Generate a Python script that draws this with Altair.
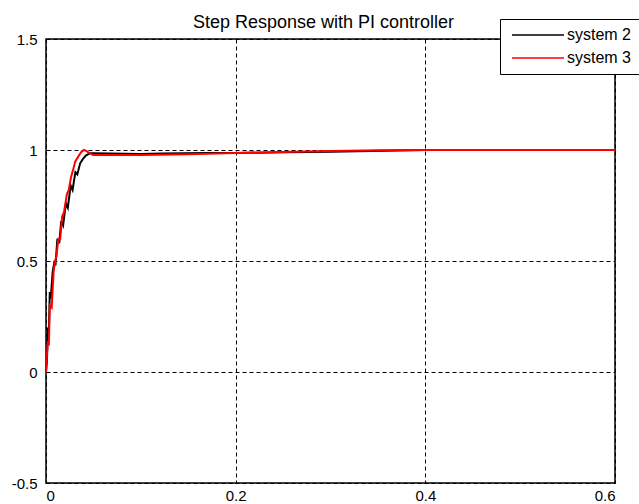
import altair as alt
import pandas as pd

# system 2 (black) step response
t2 = [0, 0.001, 0.002, 0.003, 0.004, 0.005, 0.007, 0.009, 0.010, 0.012, 0.014, 0.016, 0.018,
      0.021, 0.023, 0.026, 0.028, 0.031, 0.033, 0.036, 0.039, 0.042, 0.046, 0.05,
      0.1, 0.122, 0.17, 0.2, 0.25, 0.3, 0.343, 0.4, 0.6]
y2 = [0, 0.05, 0.2, 0.17, 0.36, 0.33, 0.45, 0.5, 0.48, 0.6, 0.58, 0.68, 0.66,
      0.76, 0.74, 0.84, 0.82, 0.9, 0.89, 0.94, 0.96, 0.975, 0.985, 0.985,
      0.982, 0.984, 0.986, 0.987, 0.99, 0.992, 0.995, 1.0, 1.0]

# system 3 (red) step response
t3 = [0, 0.001, 0.002, 0.003, 0.004, 0.006, 0.008, 0.0095, 0.011, 0.013, 0.015, 0.017, 0.019,
      0.022, 0.024, 0.0265, 0.0285, 0.031, 0.034, 0.037, 0.040, 0.043, 0.046, 0.05,
      0.1, 0.15, 0.2, 0.25, 0.3, 0.35, 0.4, 0.6]
y3 = [0, 0.08, 0.14, 0.12, 0.3, 0.29, 0.45, 0.5, 0.52, 0.6, 0.6, 0.7, 0.72,
      0.8, 0.82, 0.88, 0.91, 0.95, 0.97, 0.99, 1.0, 0.995, 0.985, 0.978,
      0.978, 0.981, 0.986, 0.991, 0.995, 0.999, 1.0, 1.0]

series = ["system 2", "system 3"]
colors = ["#000000", "#ff0000"]
x_ticks = [0, 0.2, 0.4, 0.6]
y_ticks = [-0.5, 0, 0.5, 1, 1.5]

df = pd.concat([
    pd.DataFrame({"t": t2, "y": y2, "s": series[0], "o": range(len(t2))}),
    pd.DataFrame({"t": t3, "y": y3, "s": series[1], "o": range(len(t3))}),
])

FONT = "Liberation Sans"

def axis(vals, pad):
    return alt.Axis(values=vals, title=None, grid=True, ticks=False, domain=False,
                    labelExpr="'' + datum.value", labelPadding=pad,
                    labelFont=FONT, labelFontSize=15, labelColor="black",
                    gridColor="black", gridDash=[4, 3], gridOpacity=1, gridWidth=1)

chart = alt.Chart(df).mark_line(strokeWidth=2, clip=True).encode(
    x=alt.X("t:Q", scale=alt.Scale(domain=[0, 0.6], nice=False, zero=False),
            axis=axis(x_ticks, 5)),
    y=alt.Y("y:Q", scale=alt.Scale(domain=[-0.5, 1.5], nice=False, zero=False),
            axis=axis(y_ticks, 9)),
    color=alt.Color("s:N", scale=alt.Scale(domain=series, range=colors),
                    legend=alt.Legend(title=None, orient="none", legendX=454, legendY=-20,
                                      fillColor="white", strokeColor="black", padding=8,
                                      symbolType="M-4,0H4", symbolSize=169, symbolOffset=22,
                                      symbolStrokeWidth=1.5, labelOffset=21,
                                      labelExpr="datum.label + '          '",
                                      rowPadding=7, labelFontSize=16, labelFont=FONT,
                                      labelColor="black")),
    order="o:Q",
    detail="s:N",
).properties(
    width=569, height=444,
    title=alt.TitleParams("Step Response with PI controller", font=FONT, fontSize=18,
                          fontWeight="normal", color="black", offset=-8, anchor="middle",
                          baseline="alphabetic", frame="group", dx=-7, dy=19),
    padding={"left": 46, "top": 39, "right": 24, "bottom": 21},
    autosize=alt.AutoSizeParams(type="none"),
    background="white",
).configure_view(
    stroke="black", strokeWidth=1.5,
)

chart.save("out.html", embed_options={"renderer": "svg", "actions": False})
